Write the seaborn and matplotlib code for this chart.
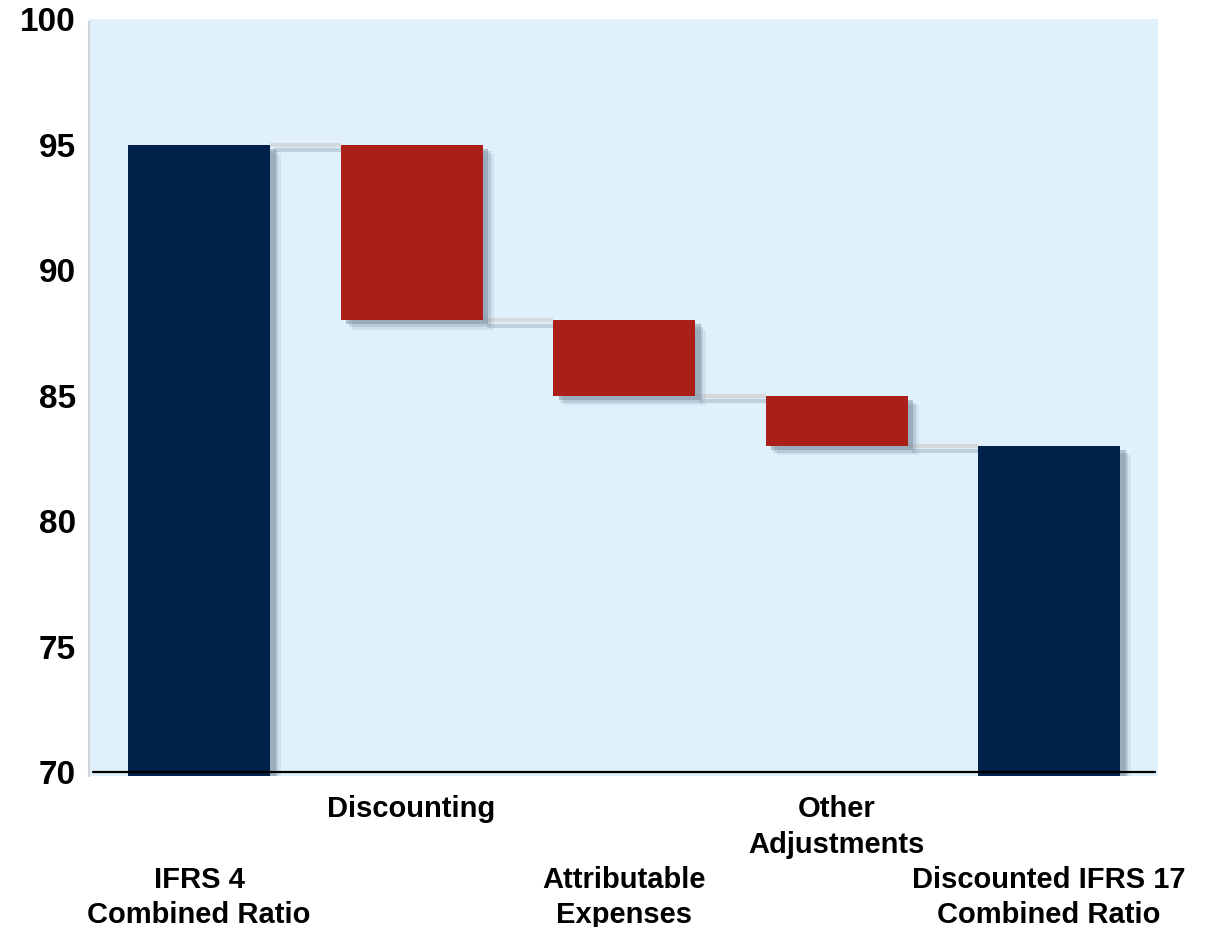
import numpy as np
import pandas as pd
import matplotlib
matplotlib.use('Agg')
import matplotlib.pyplot as plt
import matplotlib.patheffects as pe
import seaborn as sns

# waterfall data
categories = ['IFRS 4\nCombined Ratio', 'Discounting', 'Attributable\nExpenses',
              'Other\nAdjustments', 'Discounted IFRS 17\nCombined Ratio']
start_value = 95
changes = [-7, -3, -2]
kinds = ['total', 'delta', 'delta', 'delta', 'total']
y_ticks = [70, 75, 80, 85, 90, 95, 100]

NAVY = '#00214a'
RED = '#aa1f17'
BG = '#e0f1fc'
YMIN = 69.85

# running levels
levels = [start_value]
for c in changes:
    levels.append(levels[-1] + c)
end_value = levels[-1]

tops, bottoms = [], []
tops.append(start_value)
bottoms.append(YMIN)
for i, c in enumerate(changes):
    tops.append(levels[i])
    bottoms.append(levels[i + 1])
tops.append(end_value)
bottoms.append(YMIN)

df = pd.DataFrame({
    'cat': categories,
    'height': np.array(tops) - np.array(bottoms),
    'bottom': bottoms,
    'kind': kinds,
})

sns.set_style('white')
plt.rcParams['font.family'] = ['Liberation Sans', 'DejaVu Sans']
plt.rcParams['text.color'] = 'black'
plt.rcParams['xtick.color'] = 'black'
plt.rcParams['ytick.color'] = 'black'

fig = plt.figure(figsize=(12.15, 9.27), dpi=100)
ax = fig.add_axes([0.0733, 0.163, 0.8797, 0.8165])
ax.set_facecolor(BG)

# soft-ish drop shadow built from a few offset layers
shadow = [pe.SimplePatchShadow(offset=(8, -7), shadow_rgbFace='#a8b8c6', alpha=0.25),
          pe.SimplePatchShadow(offset=(6, -5), shadow_rgbFace='#8c9eae', alpha=0.35),
          pe.SimplePatchShadow(offset=(4, -3), shadow_rgbFace='#76899a', alpha=0.45),
          pe.Normal()]

sns.barplot(data=df, x='cat', y='height', bottom=df['bottom'].values, order=categories,
            color=NAVY, width=0.668, ax=ax, saturation=1, linewidth=0, errorbar=None)
colors = {'total': NAVY, 'delta': RED}
for p, k in zip(ax.patches, kinds):
    p.set_facecolor(colors[k])
    p.set_path_effects(shadow)
    p.set_zorder(3)

# connector lines
w = 0.668 / 2
line_fx = [pe.SimpleLineShadow(offset=(3, -4), shadow_color='#9fb0bf', alpha=0.5), pe.Normal()]
for i, lv in enumerate(levels):
    ax.plot([i + w, i + 1 - w], [lv, lv], color='#d6d9dc', lw=3, zorder=1,
            path_effects=line_fx, solid_capstyle='butt')

ax.set_xlim(-0.518, 4.512)
ax.set_ylim(YMIN, 100)
ax.set_yticks(y_ticks)
ax.axhline(70, color='black', lw=1.6, zorder=5, xmin=0.004, xmax=0.997)

# staggered category labels
labels = []
for i, c in enumerate(categories):
    labels.append('\n\n' + c if i % 2 == 0 else c)
ax.set_xticks(range(len(categories)))
ax.set_xticklabels(labels, fontsize=21, fontweight='bold', linespacing=1.33)
ax.tick_params(axis='x', length=0, pad=14)
ax.tick_params(axis='y', length=0, pad=9.5, labelsize=24)
for t in ax.get_yticklabels():
    t.set_fontweight('bold')
ax.set_xlabel('')
ax.set_ylabel('')

for s in ['top', 'right', 'bottom']:
    ax.spines[s].set_visible(False)
ax.spines['left'].set_color('#d0d4d8')
ax.spines['left'].set_linewidth(1.5)
ax.spines['left'].set_bounds(YMIN, 99.9)

fig.savefig('out.png', dpi=100)
